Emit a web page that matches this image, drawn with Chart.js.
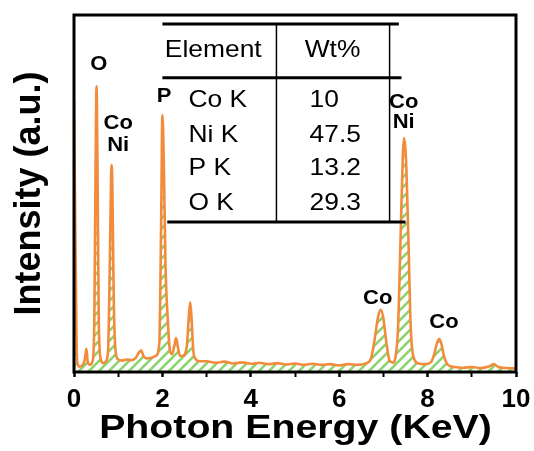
<!DOCTYPE html>
<html>
<head>
<meta charset="utf-8">
<script src="https://cdn.jsdelivr.net/npm/chart.js@4.4.1/dist/chart.umd.min.js"></script>
<style>
  html, body { margin: 0; padding: 0; background: #fff; }
</style>
</head>
<body>
<canvas id="chart" width="534" height="451"></canvas>
<script>
// EDS spectrum (keV, a.u.)
const energy = [0, 0.03, 0.07, 0.12, 0.2, 0.25, 0.28, 0.31, 0.36, 0.42, 0.46, 0.49, 0.51, 0.53, 0.56, 0.6,
  0.66, 0.72, 0.77, 0.81, 0.84, 0.855, 0.87, 0.9, 0.94, 1.0, 1.1, 1.2, 1.3, 1.4, 1.47, 1.52, 1.57, 1.65,
  1.75, 1.85, 1.93, 1.97, 2.0, 2.03, 2.07, 2.12, 2.17, 2.22, 2.28, 2.31, 2.35, 2.4, 2.46, 2.55, 2.6, 2.63,
  2.66, 2.7, 2.76, 2.85, 3.0, 3.2, 3.4, 3.6, 3.8, 4.0, 4.2, 4.4, 4.6, 4.8, 5.0, 5.2, 5.4, 5.6, 5.8, 6.0,
  6.2, 6.4, 6.6, 6.72, 6.8, 6.88, 6.94, 7.0, 7.07, 7.14, 7.22, 7.27, 7.33, 7.39, 7.44, 7.47, 7.51, 7.56,
  7.62, 7.7, 7.8, 7.95, 8.08, 8.15, 8.21, 8.26, 8.31, 8.37, 8.46, 8.6, 8.8, 9.0, 9.2, 9.4, 9.5, 9.6, 9.8, 10];
const counts = [76, 40, 3, 1.5, 2, 4, 6.5, 3, 2, 3, 15, 60, 80, 60, 15, 4,
  2.5, 3, 6, 30, 55, 58, 50, 20, 6, 3.5, 3.2, 3.5, 3.3, 4, 5.5, 6, 4.5, 3.8,
  4, 4.5, 8, 40, 72, 60, 30, 15, 6, 5, 8, 9.5, 7, 4.5, 4.5, 7, 16, 19.5,
  15, 6, 3.5, 3, 3, 2.6, 2.9, 2.4, 2.7, 2.3, 2.6, 2.2, 2.5, 2.1, 2.4, 2.0, 2.3, 2.0, 2.2, 1.9,
  2.2, 2.0, 2.4, 3.8, 9, 15.5, 17.4, 15, 8, 3.2, 2.6, 4, 12, 38, 61, 65.5, 60, 40,
  12, 3.5, 2.4, 2.2, 2.8, 5, 8, 9.2, 8, 4.5, 2.0, 1.4, 1.2, 1.4, 1.1, 1.6, 2.2, 1.4, 1.1, 1.0];

const xTickValues = [0, 1, 2, 3, 4, 5, 6, 7, 8, 9, 10];
const xTickLabels = ['0', '', '2', '', '4', '', '6', '', '8', '', '10'];
const xTitle = 'Photon Energy (KeV)';
const yTitle = 'Intensity (a.u.)';

// peak labels (text, energy, height)
const peakText = ['O', 'Co', 'Ni', 'P', 'Co', 'Ni', 'Co', 'Co'];
const peakX = [0.56, 1.0, 1.0, 2.04, 7.46, 7.46, 6.87, 8.37];
const peakY = [86, 69.5, 63.4, 77.3, 75.6, 69.8, 20.7, 14];

// inset table
const tableHead = ['Element', 'Wt%'];
const tableElements = ['Co K', 'Ni K', 'P K', 'O K'];
const tableWt = ['10', '47.5', '13.2', '29.3'];

// green hatch pattern for the area under the curve
function makeHatch() {
    let c = document.createElement('canvas');
    c.width = 10; c.height = 10;
    let g = c.getContext('2d');
    g.fillStyle = '#ffffff';
    g.fillRect(0, 0, 10, 10);
    g.strokeStyle = '#8ad46e';
    g.lineWidth = 2.6;
    g.beginPath();
    g.moveTo(-2, 12); g.lineTo(12, -2);
    g.moveTo(-2, 2); g.lineTo(2, -2);
    g.moveTo(8, 12); g.lineTo(12, 8);
    g.stroke();
    return g.createPattern(c, 'repeat');
}

function stretchText(ctx, txt, x, y, font, align, sx, baseline) {
    ctx.save();
    ctx.translate(x, y);
    ctx.scale(sx, 1);
    ctx.font = font;
    ctx.fillStyle = '#000';
    ctx.textAlign = align;
    ctx.textBaseline = baseline || 'middle';
    ctx.fillText(txt, 0, 0);
    ctx.restore();
}

const decorPlugin = {
    id: 'decor',
    afterDatasetsDraw(chart) {
        const ctx = chart.ctx;
        const xs = chart.scales.x, ys = chart.scales.y;
        const a = chart.chartArea;
        const px = v => xs.getPixelForValue(v);
        const py = v => ys.getPixelForValue(v);

        // peak labels
        for (let i = 0; i < peakText.length; i++) {
            stretchText(ctx, peakText[i], px(peakX[i]), py(peakY[i]), 'bold 20px "Liberation Sans", Arial, sans-serif', 'center', 1.1);
        }

        // table lines
        ctx.save();
        ctx.strokeStyle = '#000';
        ctx.lineWidth = 3;
        const hline = (x1, x2, y) => { ctx.beginPath(); ctx.moveTo(px(x1), py(y)); ctx.lineTo(px(x2), py(y)); ctx.stroke(); };
        hline(2.0, 7.35, 97.5);
        hline(2.0, 7.41, 82.4);
        hline(2.11, 7.5, 42);
        ctx.lineWidth = 1.5;
        [4.58, 7.14].forEach(v => {
            ctx.beginPath(); ctx.moveTo(px(v), py(97.5)); ctx.lineTo(px(v), py(42)); ctx.stroke();
        });
        ctx.restore();

        // table text
        const tf = '24px "Liberation Sans", Arial, sans-serif';
        stretchText(ctx, tableHead[0], px(3.15), py(90.2), tf, 'center', 1.1);
        stretchText(ctx, tableHead[1], px(5.85), py(90.2), tf, 'center', 1.1);
        const rowY = [76.2, 66.4, 57.1, 47.3];
        for (let i = 0; i < tableElements.length; i++) {
            stretchText(ctx, tableElements[i], px(2.59), py(rowY[i]), tf, 'left', 1.1);
            stretchText(ctx, tableWt[i], px(5.33), py(rowY[i]), tf, 'left', 1.1);
        }

        // plot frame
        ctx.save();
        ctx.strokeStyle = '#000';
        ctx.lineWidth = 3;
        ctx.strokeRect(a.left, a.top, a.right - a.left, a.bottom - a.top);
        ctx.restore();

        // x axis title, wide bold like the original
        stretchText(ctx, xTitle, (a.left + a.right) / 2 + 0.5, xs.bottom - 13, 'bold 33px "Liberation Sans", Arial, sans-serif', 'center', 1.19, 'alphabetic');
    }
};

let chart = document.getElementById('chart').getContext('2d');
let edsChart = new Chart(chart, {
    type: 'line',
    data: {
        datasets: [{
            data: energy.map((e, i) => ({x: e, y: counts[i]})),
            borderColor: '#f28c3c',
            borderWidth: 2.6,
            backgroundColor: makeHatch(),
            fill: 'origin',
            pointRadius: 0,
            cubicInterpolationMode: 'monotone'
        }]
    },
    options: {
        responsive: false,
        animation: false,
        layout: {padding: {top: 15, right: 18, left: 0, bottom: 0}},
        plugins: {legend: {display: false}, tooltip: {enabled: false}},
        scales: {
            x: {
                type: 'linear',
                min: 0, max: 10,
                afterFit(scale) {
                    scale.height = 79;
                    scale.paddingLeft = 0;
                    scale.paddingRight = 0;
                },
                afterBuildTicks(scale) { scale.ticks = xTickValues.map(v => ({value: v})); },
                ticks: {
                    callback: (v, i) => xTickLabels[i],
                    color: '#000',
                    padding: 7,
                    maxRotation: 0,
                    autoSkip: false,
                    font: {family: '"Liberation Sans", Arial, sans-serif', size: 26, weight: 'bold'}
                },
                grid: {
                    drawOnChartArea: false,
                    tickLength: 5,
                    tickColor: '#000',
                    tickWidth: c => (c.index % 2 === 0 ? 2.5 : 2)
                },
                border: {display: false}
            },
            y: {
                min: 0, max: 100,
                afterFit(scale) { scale.width = 74; },
                ticks: {display: false},
                grid: {display: false},
                border: {display: false},
                title: {
                    display: true,
                    text: yTitle,
                    color: '#000',
                    padding: {top: 12, bottom: 0},
                    font: {family: '"Liberation Sans", Arial, sans-serif', size: 36, weight: 'bold', lineHeight: 1}
                }
            }
        }
    },
    plugins: [decorPlugin]
});
</script>
</body>
</html>
